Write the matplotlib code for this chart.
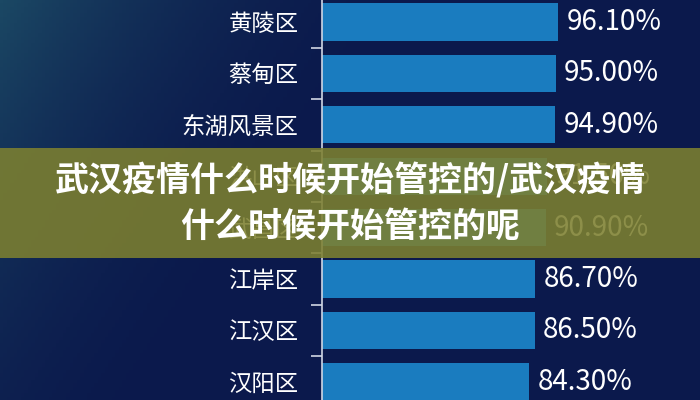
import numpy as np
import matplotlib.pyplot as plt
from matplotlib.patches import Rectangle

plt.rcParams['font.family'] = ['Noto Sans CJK SC', 'DejaVu Sans']

# data
districts = ["黄陵区", "蔡甸区", "东湖风景区", "洪山区", "武昌区", "江岸区", "江汉区", "汉阳区"]
rates = [96.10, 95.00, 94.90, 91.50, 90.90, 86.70, 86.50, 84.30]
title_lines = ["武汉疫情什么时候开始管控的/武汉疫情", "什么时候开始管控的呢"]

bar_color = "#1a7cbf"

fig = plt.figure(figsize=(7, 4), dpi=100)

# background gradient
bg = fig.add_axes([0, 0, 1, 1])
gx, gy = np.meshgrid(np.linspace(0, 1, 200), np.linspace(0, 1, 120))
t = np.clip(1.0 - (gx * 1.6 + gy * 0.6), 0, 1) ** 2
c0 = np.array([0x0b, 0x19, 0x4c]) / 255
c1 = np.array([0x1b, 0x48, 0x64]) / 255
img = c0[None, None, :] * (1 - t[..., None]) + c1[None, None, :] * t[..., None]
bg.imshow(img, aspect='auto', extent=[0, 1, 0, 1], origin='upper')
bg.set_axis_off()

ax = fig.add_axes([322 / 700, 0, 1 - 322 / 700, 1])
ax.patch.set_alpha(0)
y = np.arange(len(districts))
ax.barh(y, rates, height=0.72, color=bar_color)
ax.set_xlim(0, (700 - 322) / 2.46)
ax.set_ylim((400 - 22) / 51.4, -22 / 51.4)

for yi, v in zip(y, rates):
    ax.text(v + 3.4, yi, f"{v:.2f}%", va='center', ha='left',
            color='white', fontsize=20)

ax.set_yticks(y)
ax.set_yticklabels(districts, color='white', fontsize=16.8)
ax.set_yticks(y[:-1] + 0.5, minor=True)
ax.tick_params(axis='y', which='major', length=0, pad=17)
ax.tick_params(axis='y', which='minor', length=8, width=1.2, color='#d0d6e4', direction='out')
ax.set_xticks([])
for s in ['top', 'right', 'bottom']:
    ax.spines[s].set_visible(False)
ax.spines['left'].set_color('#d0d6e4')
ax.spines['left'].set_linewidth(1.2)

# overlay banner
fig.patches.append(Rectangle((0, 1 - 258 / 400), 1, 110 / 400, transform=fig.transFigure,
                             facecolor='#7d8030', alpha=0.88, zorder=5))
fig.text(0.5, 1 - 180 / 400, title_lines[0], ha='center', va='center', color='white',
         fontsize=24.5, fontweight='black', zorder=6)
fig.text(0.5, 1 - 226 / 400, title_lines[1], ha='center', va='center', color='white',
         fontsize=24.5, fontweight='black', zorder=6)

fig.savefig("out.png", dpi=100)
